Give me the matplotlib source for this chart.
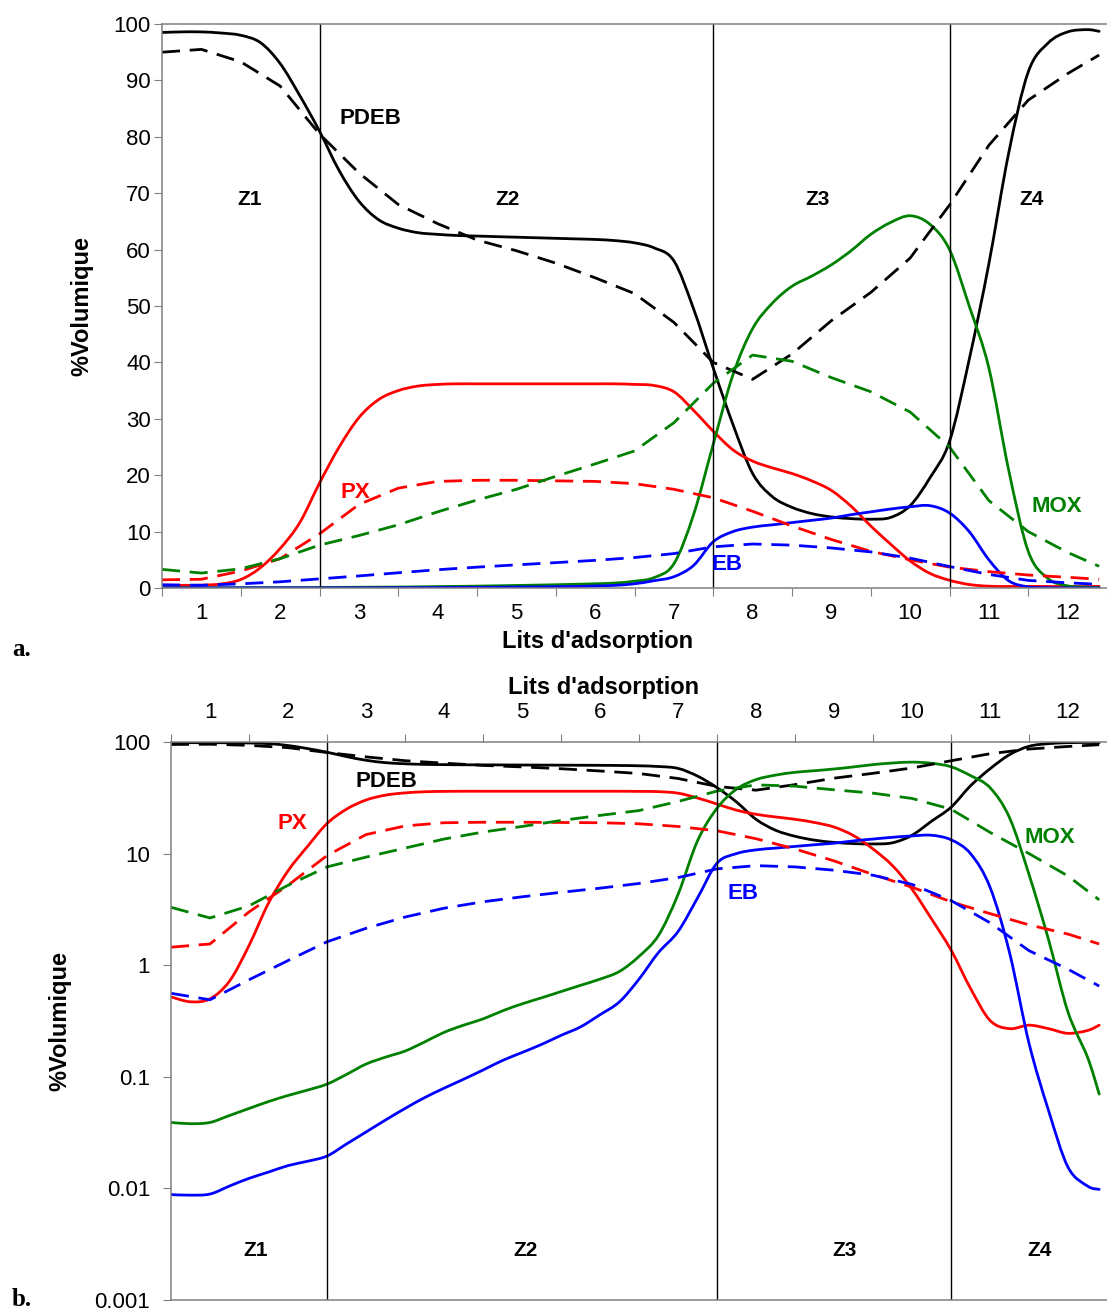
import numpy as np
import matplotlib
matplotlib.use("Agg")
import matplotlib.pyplot as plt
from matplotlib.path import Path
from matplotlib.patches import PathPatch
from matplotlib.ticker import NullLocator

plt.rcParams['font.family'] = ['Liberation Sans', 'DejaVu Sans']

# bed positions (lits d'adsorption)
bed_pos = [1, 2, 3, 4, 5, 6, 7, 8, 9, 10, 11, 12]
bed_labels = [str(b) for b in bed_pos]
zone_bounds = [2.5, 7.5, 10.5]

# simulated profiles (solid lines)
x_sim = [0.5, 0.75, 1.0, 1.25, 1.5, 1.75, 2.0, 2.25, 2.5, 2.75, 3.0, 3.25, 3.5, 3.75,
         4.0, 4.25, 4.5, 4.75, 5.0, 5.25, 5.5, 5.75, 6.0, 6.25, 6.5, 6.75, 7.0, 7.25,
         7.5, 7.75, 8.0, 8.25, 8.5, 8.75, 9.0, 9.25, 9.5, 9.75, 10.0, 10.25, 10.5,
         10.75, 11.0, 11.25, 11.5, 11.75, 12.0, 12.25, 12.4]
pdeb_sim = [98.5, 98.6, 98.6, 98.4, 98.0, 96.7, 93.0, 87.3, 81.0, 74.0, 68.6, 65.3, 63.8, 63.0,
            62.7, 62.5, 62.4, 62.3, 62.2, 62.1, 62.0, 61.9, 61.8, 61.6, 61.2, 60.3, 58.0, 49.5,
            39.0, 29.0, 20.3, 16.2, 14.3, 13.2, 12.6, 12.3, 12.2, 12.5, 14.6, 19.5, 26.0,
            40.5, 57.5, 77.0, 91.5, 96.6, 98.6, 99.0, 98.7]
px_sim = [0.52, 0.47, 0.50, 0.72, 1.5, 3.6, 7.0, 11.6, 18.6, 25.0, 30.2, 33.4, 35.0, 35.8,
          36.1, 36.2, 36.2, 36.2, 36.2, 36.2, 36.2, 36.2, 36.2, 36.2, 36.1, 35.9, 34.8, 31.5,
          27.8, 24.5, 22.5, 21.3, 20.3, 19.0, 17.3, 14.5, 11.0, 7.8, 4.8, 2.6, 1.37,
          0.62, 0.32, 0.27, 0.29, 0.27, 0.245, 0.26, 0.29]
mox_sim = [0.039, 0.038, 0.039, 0.045, 0.052, 0.060, 0.068, 0.076, 0.086, 0.105, 0.13, 0.15, 0.17, 0.205,
           0.25, 0.29, 0.33, 0.39, 0.45, 0.51, 0.58, 0.66, 0.75, 0.88, 1.2, 1.85, 4.3, 13.0,
           25.5, 37.8, 46.0, 50.5, 53.5, 55.3, 57.3, 59.8, 62.7, 64.8, 66.0, 64.5, 60.0,
           50.0, 39.0, 21.0, 6.5, 1.7, 0.38, 0.15, 0.07]
eb_sim = [0.0088, 0.0087, 0.0089, 0.0105, 0.0123, 0.014, 0.016, 0.0175, 0.0195, 0.025, 0.032, 0.041, 0.052, 0.065,
          0.079, 0.095, 0.115, 0.14, 0.165, 0.195, 0.235, 0.28, 0.36, 0.47, 0.75, 1.3, 2.0, 4.0,
          8.2, 10.0, 10.8, 11.2, 11.6, 12.0, 12.4, 13.0, 13.5, 14.0, 14.4, 14.6, 13.3,
          10.0, 5.0, 1.3, 0.2, 0.05, 0.0155, 0.0105, 0.0098]

# experimental profiles (dashed lines)
x_exp = [0.5, 1.0, 1.5, 2.0, 2.5, 3.0, 3.5, 4.0, 4.5, 5.0, 5.5, 6.0, 6.5, 7.0, 7.5, 8.0,
         8.5, 9.0, 9.5, 10.0, 10.5, 11.0, 11.5, 12.0, 12.4]
pdeb_exp = [95.0, 95.5, 93.3, 89.0, 80.5, 73.6, 68.0, 64.6, 61.7, 59.8, 57.6, 55.0, 52.2, 47.1, 40.0, 37.0,
            41.5, 47.4, 52.4, 58.5, 67.9, 78.5, 86.5, 91.2, 94.5]
px_exp = [1.45, 1.55, 3.0, 5.2, 9.6, 14.8, 17.7, 18.9, 19.1, 19.1, 19.0, 18.9, 18.5, 17.5, 16.0, 13.6,
          11.0, 8.6, 6.5, 5.0, 3.7, 2.9, 2.3, 1.9, 1.55]
mox_exp = [3.3, 2.65, 3.4, 5.2, 7.6, 9.3, 11.2, 13.5, 15.6, 17.5, 19.8, 22.0, 24.3, 29.3, 36.3, 41.3,
           40.2, 37.3, 34.8, 31.2, 25.0, 15.5, 10.0, 6.3, 3.85]
eb_exp = [0.56, 0.49, 0.74, 1.1, 1.62, 2.14, 2.7, 3.24, 3.7, 4.1, 4.5, 4.9, 5.4, 6.1, 7.3, 7.8,
          7.6, 7.1, 6.4, 5.3, 3.8, 2.4, 1.35, 0.92, 0.65]

series = [
    ('black', pdeb_sim, pdeb_exp),
    ('#FF0000', px_sim, px_exp),
    ('#008000', mox_sim, mox_exp),
    ('#0000FF', eb_sim, eb_exp),
]

GRAY = '#808080'
LW = 2.0
DASH = (6.5, 3.5)


def smooth_line(ax, x, y, color, logy):
    # Excel-like smoothed line: bezier path through the points
    # (in log space for the log panel so the curve looks smooth on screen)
    xs = np.asarray(x, float)
    ys = np.log10(y) if logy else np.asarray(y, float)
    p = np.column_stack([xs, ys])
    pad = np.vstack([p[0], p, p[-1]])
    verts = [p[0]]
    codes = [Path.MOVETO]
    for i in range(len(p) - 1):
        p0, p1, p2, p3 = pad[i], pad[i + 1], pad[i + 2], pad[i + 3]
        verts += [p1 + (p2 - p0) / 6.0, p2 - (p3 - p1) / 6.0, p2]
        codes += [Path.CURVE4] * 3
    verts = np.array(verts)
    if logy:
        verts[:, 1] = 10 ** verts[:, 1]
    ax.add_patch(PathPatch(Path(verts, codes), fill=False, edgecolor=color,
                           lw=LW, capstyle='round', joinstyle='round'))


def draw_profiles(ax, logy):
    for color, sim, exp in series:
        ax.plot(x_exp, exp, color=color, lw=LW, dashes=DASH)
        smooth_line(ax, x_sim, sim, color, logy)
    for b in zone_bounds:
        ax.axvline(b, color='black', lw=1.0)


def style_axes(ax, top, ypad):
    ax.spines['right'].set_visible(False)
    for s in ['left', 'top', 'bottom']:
        ax.spines[s].set_color(GRAY)
        ax.spines[s].set_linewidth(1.1)
    ax.set_xticks(np.arange(0.5, 13.0, 1.0))
    ax.set_xticks(bed_pos, minor=True)
    ax.set_xticklabels(bed_labels, minor=True)
    if top:
        ax.xaxis.tick_top()
        ax.xaxis.set_label_position('top')
        ax.tick_params(axis='x', which='major', direction='out', length=6, color=GRAY,
                       labeltop=False, labelbottom=False, top=True, bottom=False)
        ax.tick_params(axis='x', which='minor', length=0, pad=14, labelsize=16,
                       labeltop=True, labelbottom=False, top=True, bottom=False)
    else:
        ax.tick_params(axis='x', which='major', direction='out', length=6, color=GRAY,
                       labelbottom=False)
        ax.tick_params(axis='x', which='minor', length=0, pad=11, labelsize=16)
    ax.tick_params(axis='y', which='major', direction='out', length=6, color=GRAY,
                   labelsize=16, pad=ypad)


fig = plt.figure(figsize=(11.07, 13.12), dpi=100)

# ---- panel a : linear scale
ax1 = fig.add_axes([162 / 1107, 1 - 588 / 1312, 945 / 1107, 564 / 1312])
draw_profiles(ax1, False)
ax1.set_xlim(0.5, 12.38)
ax1.set_ylim(0, 100)
ax1.set_yticks(np.arange(0, 101, 10))
style_axes(ax1, top=False, ypad=2)
ax1.set_xlabel("Lits d'adsorption", fontsize=17, fontweight='bold')
ax1.xaxis.set_label_coords(0.461, -0.075)
ax1.set_ylabel('%Volumique', fontsize=17, fontweight='bold')
ax1.yaxis.set_label_coords(-0.073, 0.5)

labels_a = [('PDEB', 3.15, 83.3, 'black', 16), ('PX', 2.95, 17.0, '#FF0000', 16),
            ('MOX', 11.86, 14.4, '#008000', 16), ('EB', 7.68, 4.1, '#0000FF', 16),
            ('Z1', 1.61, 68.8, 'black', 15), ('Z2', 4.89, 68.8, 'black', 15),
            ('Z3', 8.83, 68.8, 'black', 15), ('Z4', 11.54, 68.8, 'black', 15)]
for txt, x, y, c, fs in labels_a:
    ax1.text(x, y, txt, color=c, fontsize=fs, fontweight='bold', ha='center', va='center')

# ---- panel b : log scale
ax2 = fig.add_axes([171 / 1107, 12 / 1312, 936 / 1107, 558 / 1312])
ax2.set_yscale('log')
draw_profiles(ax2, True)
ax2.set_xlim(0.5, 12.35)
ax2.set_ylim(0.001, 100)
ax2.set_yticks([0.001, 0.01, 0.1, 1, 10, 100])
ax2.set_yticklabels(['0.001', '0.01', '0.1', '1', '10', '100'])
ax2.yaxis.set_minor_locator(NullLocator())
style_axes(ax2, top=True, ypad=9)
ax2.set_xlabel("Lits d'adsorption", fontsize=17, fontweight='bold')
ax2.xaxis.set_label_coords(0.4626, 1.086)
ax2.set_ylabel('%Volumique', fontsize=17, fontweight='bold')
ax2.yaxis.set_label_coords(-0.106, 0.5)

labels_b = [('PDEB', 3.26, 44.7, 'black', 16), ('PX', 2.06, 18.8, '#FF0000', 16),
            ('MOX', 11.77, 13.8, '#008000', 16), ('EB', 7.83, 4.35, '#0000FF', 16),
            ('Z1', 1.58, 0.0028, 'black', 15), ('Z2', 5.05, 0.0028, 'black', 15),
            ('Z3', 9.13, 0.0028, 'black', 15), ('Z4', 11.64, 0.0028, 'black', 15)]
for txt, x, y, c, fs in labels_b:
    ax2.text(x, y, txt, color=c, fontsize=fs, fontweight='bold', ha='center', va='center')

fig.text(12 / 1107, 1 - 650 / 1312, 'a.', fontsize=18, fontweight='bold',
         family='Liberation Serif', va='center', ha='left')
fig.text(12 / 1107, 1 - 1300 / 1312, 'b.', fontsize=18, fontweight='bold',
         family='Liberation Serif', va='center', ha='left')

fig.savefig('out.png', dpi=100)
